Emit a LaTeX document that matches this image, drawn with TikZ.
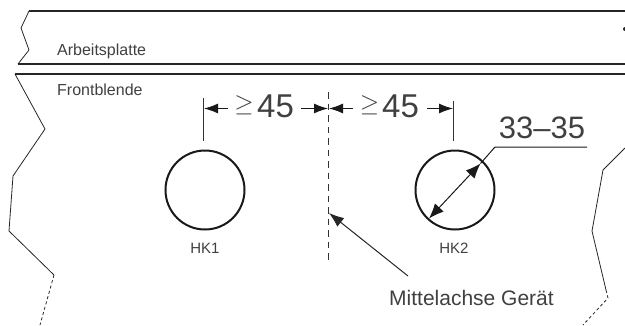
\documentclass[tikz,border=0pt]{standalone}
\usepackage{fontspec}
\setmainfont{Liberation Sans}
\usetikzlibrary{arrows.meta}
\definecolor{inktext}{gray}{0.25}
\tikzset{
  plate/.style={line width=1.6pt,draw=black!85},
  breakline/.style={line width=0.8pt,draw=black!85},
  dimline/.style={line width=1.1pt,draw=black!80},
  dimarrow/.style={line width=1.1pt,draw=black!90,-{Latex[length=14pt,width=10pt]}},
  hole/.style={line width=2pt,draw=black!90},
  smalltext/.style={inner sep=0pt,text=inktext,font=\fontsize{16}{16}\selectfont},
  hktext/.style={inner sep=0pt,text=inktext,font=\fontsize{15}{15}\selectfont},
  bigtext/.style={inner sep=0pt,text=inktext,font=\fontsize{31}{31}\selectfont},
  numtext/.style={inner sep=0pt,text=inktext,font=\fontsize{33}{33}\selectfont},
  midtext/.style={inner sep=0pt,text=inktext,font=\fontsize{21}{21}\selectfont},
  getext/.style={inner sep=0pt,text=inktext,font=\fontsize{24}{24}\selectfont},
}
\begin{document}
\begin{tikzpicture}[x=1pt,y=-1pt]

  % Fix the page size
  \useasboundingbox (0,0) rectangle (625,325);

  % Define the radius of the holes
  \def\R{39.5}

  % Define the centers of the holes
  \coordinate (M1) at (205,190);
  \coordinate (M2) at (455,190);

  % Draw the worktop and the front panel edges
  \draw[plate] (29,11) -- (625,11);
  \draw[plate] (18,64) -- (625,64);
  \draw[plate] (15,74) -- (625,74);

  % Draw the left break lines
  \draw[breakline] (29,11) -- (21,28) -- (29,50) -- (18,64);
  \draw[breakline] (15,74) -- (45,129) -- (13,176) -- (9,231) -- (54,275);
  \draw[breakline,dash pattern=on 3pt off 2.5pt] (54,275) -- (40,325);

  % Draw the right break lines
  \draw[breakline] (625,148) -- (603,170) -- (592,231) -- (606,290);
  \draw[breakline,dash pattern=on 3pt off 2.5pt] (606,290) -- (608,298) -- (583,325);
  \fill[black!85] (625,29) circle (2pt);

  % Draw the holes
  \draw[hole] (M1) circle (\R);
  \draw[hole] (M2) circle (\R);

  % Draw the center axis
  \coordinate (A1) at (328.5,92);
  \coordinate (A2) at (328.5,262);
  \draw[dimline,dash pattern=on 6.5pt off 5pt] (A1) -- (A2);

  % Draw the extension lines
  \coordinate (E1) at (203.5,98);
  \coordinate (E2) at (203.5,141);
  \coordinate (E3) at (453.5,101);
  \coordinate (E4) at (453.5,141);
  \draw[dimline] (E1) -- (E2);
  \draw[dimline] (E3) -- (E4);

  % Draw the distance arrows
  \draw[dimarrow] (228,108.5) -- (204,108.5);
  \draw[dimarrow] (301,108.5) -- (328,108.5);
  \draw[dimarrow] (353,108.5) -- (329,108.5);
  \draw[dimarrow] (427,108.5) -- (453,108.5);

  % Draw the diameter arrow and its leader
  \coordinate (D1) at (429,218.5);
  \coordinate (D2) at (480.5,163.5);
  \draw[line width=1pt,draw=black!90,{Latex[length=15pt,width=12pt]}-{Latex[length=15pt,width=12pt]}] (D1) -- (D2);
  \coordinate (L1) at (495,147);
  \coordinate (L2) at (587,147);
  \draw[line width=1pt,draw=black!90] (D2) -- (L1) -- (L2);

  % Draw the pointer to the axis
  \coordinate (P1) at (408,276);
  \coordinate (P2) at (329,213);
  \draw[line width=1pt,draw=black!85,-{Latex[length=15pt,width=11pt]}] (P1) -- (P2);

  % Add the labels
  \node[smalltext,anchor=base west] (worktop) at (57,55) {Arbeitsplatte};
  \node[smalltext,anchor=base west] (front) at (57,95) {Frontblende};
  \node[hktext,anchor=base] (hk1) at (205,253) {HK1};
  \node[hktext,anchor=base] (hk2) at (454,253) {HK2};
  \node[midtext,anchor=base west] (axis) at (389,305) {Mittelachse Gerät};
  \node[bigtext,anchor=base] (dia) at (542,138) {33–35};

  % Add the distance values
  \node[numtext,anchor=base west] (dist1) at (257,117.5) {45};
  \node[numtext,anchor=base west] (dist2) at (382,117.5) {45};
  \node[getext] (ge1) at (244,105.5) {$\geq$};
  \node[getext] (ge2) at (369.5,105.5) {$\geq$};

\end{tikzpicture}
\end{document}
